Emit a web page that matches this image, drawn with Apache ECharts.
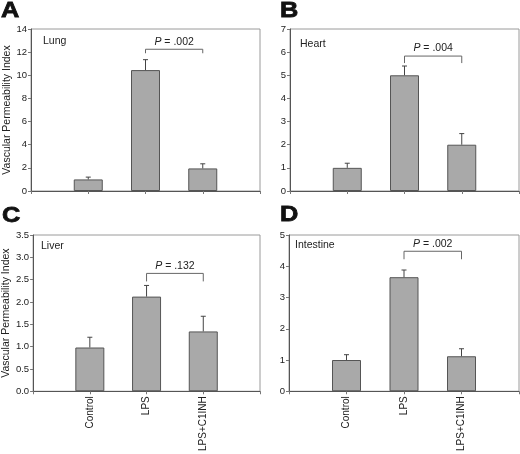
<!DOCTYPE html>
<html><head><meta charset="utf-8">
<script src="https://cdn.jsdelivr.net/npm/echarts@6/dist/echarts.min.js"></script>
<style>html,body{margin:0;padding:0;background:#fff}#c{width:520px;height:454px}</style>
</head><body><div id="c"></div>
<script>
const categories = ['Control', 'LPS', 'LPS+C1INH'];
const organs = ['Lung', 'Heart', 'Liver', 'Intestine'];
const panelLetters = ['A', 'B', 'C', 'D'];
const lungMean = [1.0, 10.45, 1.95];
const lungErr = [1.2, 11.35, 2.35];
const heartMean = [1.0, 5.0, 2.0];
const heartErr = [1.2, 5.4, 2.48];
const liverMean = [0.98, 2.12, 1.34];
const liverErr = [1.21, 2.37, 1.68];
const intestineMean = [1.0, 3.65, 1.12];
const intestineErr = [1.17, 3.88, 1.36];
const pLabels = ['.002', '.004', '.132', '.002'];
const bracketY = [12.25, 5.83, 2.64, 4.48];
const yMax = [14, 7, 3.5, 5];
const yStep = [2, 1, 0.5, 1];
const yDecimals = [0, 0, 1, 0];

const means = [lungMean, heartMean, liverMean, intestineMean];
const errs = [lungErr, heartErr, liverErr, intestineErr];

// layout (style only)
const grids = [
  {left: 31, top: 29, width: 229, height: 162},
  {left: 290, top: 29, width: 229, height: 162},
  {left: 31, top: 235, width: 229, height: 161},
  {left: 289, top: 235, width: 230, height: 160}
];
const organPos = [[43, 36], [300, 39], [41, 241], [295, 240]];
const letterPos = [[1, 0], [280, 0], [2, 205], [280, 204]];
const tickDrop = [4, 7, 8, 8];
const FONT = 'Liberation Sans, Arial, Helvetica, sans-serif';
const xData = [''].concat(categories).concat(['']);

const option = {
  backgroundColor: '#fff',
  animation: false,
  textStyle: {fontFamily: FONT},
  grid: grids.map(g => Object.assign({show: true, borderColor: '#9a9a9a', borderWidth: 1, backgroundColor: '#fff'}, g)),
  xAxis: grids.map((g, i) => ({
    type: 'category', gridIndex: i, data: xData, boundaryGap: false,
    axisLine: {lineStyle: {color: '#555', width: 1}},
    axisTick: {show: true, length: 3, lineStyle: {color: '#777'}},
    axisLabel: {show: i >= 2, rotate: 90, margin: 5, fontSize: 10, color: '#222', fontFamily: FONT, interval: 0}
  })),
  yAxis: grids.map((g, i) => ({
    type: 'value', gridIndex: i, min: 0, max: yMax[i], interval: yStep[i],
    name: (i % 2 === 0) ? 'Vascular Permeability Index' : '',
    nameLocation: 'middle', nameRotate: 90, nameGap: 16,
    nameTextStyle: {fontSize: 10.5, color: '#222', fontFamily: FONT},
    splitLine: {show: false},
    axisLine: {show: true, lineStyle: {color: '#555', width: 1}},
    axisTick: {show: true, length: 3, lineStyle: {color: '#777'}},
    axisLabel: {fontSize: 9.5, color: '#222', margin: 4, fontFamily: FONT,
      formatter: v => v.toFixed(yDecimals[i])}
  })),
  graphic: [],
  series: []
};

for (let i = 0; i < 4; i++) {
  option.graphic.push({type: 'text', x: letterPos[i][0], y: letterPos[i][1], scaleX: 1.15,
    style: {text: panelLetters[i], fontSize: 22, fontWeight: 'bold', fill: '#111', fontFamily: FONT,
      stroke: '#111', lineWidth: 0.8}});
  option.graphic.push({type: 'text', left: organPos[i][0], top: organPos[i][1],
    style: {text: organs[i], fontSize: 10.5, fill: '#222', fontFamily: FONT}});

  option.series.push({
    type: 'bar', xAxisIndex: i, yAxisIndex: i, barWidth: 29,
    data: ['-'].concat(means[i]).concat(['-']),
    itemStyle: {color: '#a9a9a9', borderColor: '#555', borderWidth: 1},
    z: 2
  });
  const errData = means[i].map((m, k) => [k + 1, m, errs[i][k]]);
  option.series.push({
    type: 'custom', xAxisIndex: i, yAxisIndex: i, z: 3,
    data: errData,
    encode: {x: 0, y: [1, 2]},
    renderItem: function (params, api) {
      const x = api.value(0);
      const base = api.coord([x, api.value(1)]);
      const top = api.coord([x, api.value(2)]);
      const st = {stroke: '#444', lineWidth: 1};
      return {type: 'group', children: [
        {type: 'line', shape: {x1: top[0], y1: base[1], x2: top[0], y2: top[1]}, style: st},
        {type: 'line', shape: {x1: top[0] - 2.5, y1: top[1], x2: top[0] + 2.5, y2: top[1]}, style: st}
      ]};
    }
  });
  const drop = tickDrop[i];
  const ptxt = pLabels[i];
  option.series.push({
    type: 'custom', xAxisIndex: i, yAxisIndex: i, z: 3,
    data: [[2, 3, bracketY[i]]],
    encode: {x: [0, 1], y: 2},
    renderItem: function (params, api) {
      const a = api.coord([api.value(0), api.value(2)]);
      const b = api.coord([api.value(1), api.value(2)]);
      const st = {stroke: '#666', lineWidth: 1, fill: null};
      return {type: 'group', children: [
        {type: 'polyline', shape: {points: [[a[0], a[1] + drop], [a[0], a[1]], [b[0], b[1]], [b[0], b[1] + drop]]}, style: st},
        {type: 'text', style: {
          text: '{i|P} = ' + ptxt, x: (a[0] + b[0]) / 2, y: a[1] - 2,
          align: 'center', verticalAlign: 'bottom', fontSize: 10.5, fill: '#222', fontFamily: FONT,
          rich: {i: {fontStyle: 'italic', fontSize: 10.5, fill: '#222', fontFamily: FONT}}
        }}
      ]};
    }
  });
}

const chart = echarts.init(document.getElementById('c'), null, {renderer: 'canvas'});
chart.setOption(option);
</script>
</body></html>
